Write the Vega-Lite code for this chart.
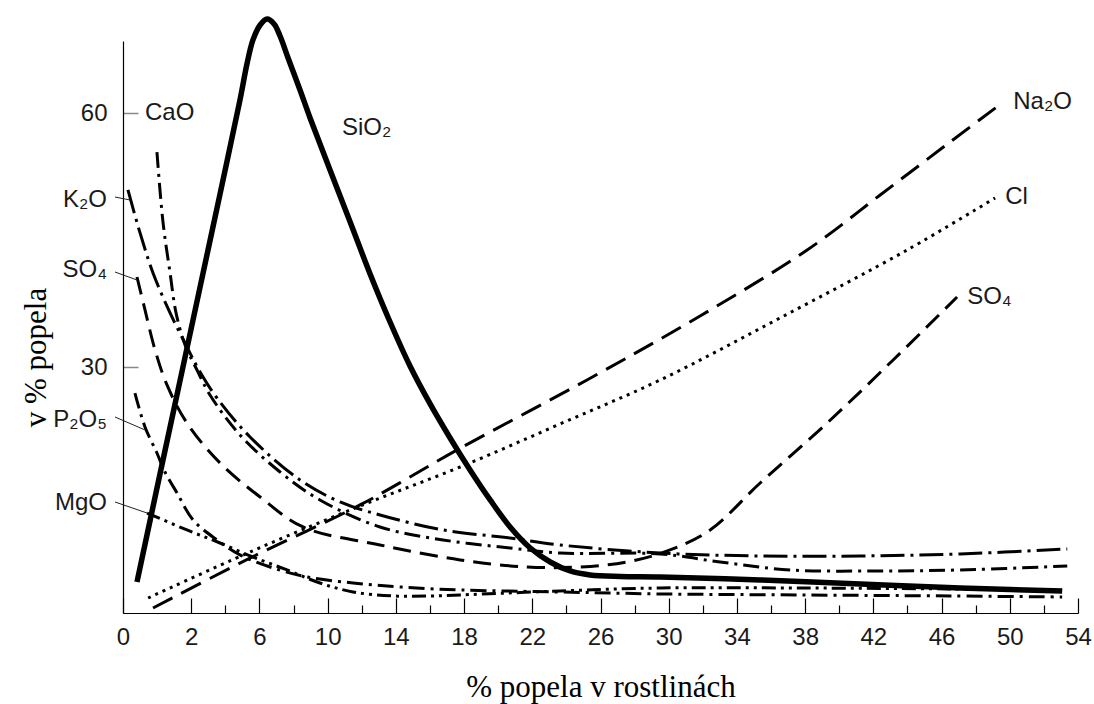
{
  "$schema": "https://vega.github.io/schema/vega-lite/v6.json",
  "width": 955,
  "height": 572,
  "autosize": "none",
  "padding": {"left": 123, "top": 41, "right": 16, "bottom": 91},
  "background": "white",
  "config": {"view": {"stroke": null}, "font": "Liberation Sans"},
  "datasets": {
    "curves": [
      {"s": "SiO2", "x": -1.18, "y": 4.66}, {"s": "SiO2", "x": 0.17, "y": 17.41}, {"s": "SiO2", "x": 1.34, "y": 28.38}, {"s": "SiO2", "x": 2.52, "y": 39.47}, {"s": "SiO2", "x": 3.69, "y": 50.45}, {"s": "SiO2", "x": 4.86, "y": 61.54}, {"s": "SiO2", "x": 5.27, "y": 65.8}, {"s": "SiO2", "x": 5.62, "y": 68.63}, {"s": "SiO2", "x": 6.04, "y": 70.39}, {"s": "SiO2", "x": 6.45, "y": 71.1}, {"s": "SiO2", "x": 6.86, "y": 70.51}, {"s": "SiO2", "x": 7.21, "y": 69.09}, {"s": "SiO2", "x": 7.68, "y": 66.5}, {"s": "SiO2", "x": 8.38, "y": 62.72}, {"s": "SiO2", "x": 8.97, "y": 59.42}, {"s": "SiO2", "x": 10.14, "y": 53.28}, {"s": "SiO2", "x": 11.32, "y": 47.14}, {"s": "SiO2", "x": 12.49, "y": 41.01}, {"s": "SiO2", "x": 13.66, "y": 35.34}, {"s": "SiO2", "x": 14.83, "y": 30.15}, {"s": "SiO2", "x": 16.01, "y": 25.67}, {"s": "SiO2", "x": 17.18, "y": 21.65}, {"s": "SiO2", "x": 18.35, "y": 17.88}, {"s": "SiO2", "x": 19.53, "y": 14.34}, {"s": "SiO2", "x": 20.7, "y": 11.15}, {"s": "SiO2", "x": 21.88, "y": 8.67}, {"s": "SiO2", "x": 23.05, "y": 7.02}, {"s": "SiO2", "x": 24.22, "y": 5.96}, {"s": "SiO2", "x": 25.39, "y": 5.49}, {"s": "SiO2", "x": 27.15, "y": 5.31}, {"s": "SiO2", "x": 29.5, "y": 5.25}, {"s": "SiO2", "x": 35.36, "y": 4.9}, {"s": "SiO2", "x": 41.23, "y": 4.43}, {"s": "SiO2", "x": 47.09, "y": 3.95}, {"s": "SiO2", "x": 53.07, "y": 3.6},
      {"s": "Na2O", "x": -0.24, "y": 1.59}, {"s": "Na2O", "x": 5.45, "y": 7.49}, {"s": "Na2O", "x": 11.9, "y": 13.75}, {"s": "Na2O", "x": 17.59, "y": 20.24}, {"s": "Na2O", "x": 25.21, "y": 28.5}, {"s": "Na2O", "x": 31.84, "y": 36.05}, {"s": "Na2O", "x": 38.12, "y": 43.84}, {"s": "Na2O", "x": 42.4, "y": 50.33}, {"s": "Na2O", "x": 46.5, "y": 56.58}, {"s": "Na2O", "x": 49.55, "y": 61.19},
      {"s": "Cl", "x": -0.53, "y": 2.77}, {"s": "Cl", "x": 5.45, "y": 8.2}, {"s": "Cl", "x": 11.9, "y": 13.63}, {"s": "Cl", "x": 17.77, "y": 18.23}, {"s": "Cl", "x": 23.63, "y": 23.31}, {"s": "Cl", "x": 29.5, "y": 28.5}, {"s": "Cl", "x": 36.53, "y": 35.82}, {"s": "Cl", "x": 43.98, "y": 43.84}, {"s": "Cl", "x": 49.14, "y": 49.98},
      {"s": "SO4", "x": -1.18, "y": 40.65}, {"s": "SO4", "x": -0.71, "y": 36.76}, {"s": "SO4", "x": -0.12, "y": 32.04}, {"s": "SO4", "x": 0.58, "y": 27.91}, {"s": "SO4", "x": 1.75, "y": 23.42}, {"s": "SO4", "x": 3.69, "y": 18.7}, {"s": "SO4", "x": 6.04, "y": 14.69}, {"s": "SO4", "x": 8.56, "y": 11.15}, {"s": "SO4", "x": 13.07, "y": 9.03}, {"s": "SO4", "x": 17.77, "y": 7.26}, {"s": "SO4", "x": 21.7, "y": 6.43}, {"s": "SO4", "x": 24.8, "y": 6.43}, {"s": "SO4", "x": 27.56, "y": 7.02}, {"s": "SO4", "x": 30.08, "y": 8.44}, {"s": "SO4", "x": 32.43, "y": 10.8}, {"s": "SO4", "x": 35.36, "y": 16.34}, {"s": "SO4", "x": 39.29, "y": 23.42}, {"s": "SO4", "x": 43.16, "y": 30.86}, {"s": "SO4", "x": 46.91, "y": 38.29},
      {"s": "K2O", "x": -1.71, "y": 50.92}, {"s": "K2O", "x": -1.0, "y": 45.85}, {"s": "K2O", "x": -0.24, "y": 41.13}, {"s": "K2O", "x": 0.76, "y": 36.41}, {"s": "K2O", "x": 1.75, "y": 32.39}, {"s": "K2O", "x": 2.52, "y": 29.44}, {"s": "K2O", "x": 3.51, "y": 26.37}, {"s": "K2O", "x": 5.45, "y": 21.77}, {"s": "K2O", "x": 8.38, "y": 16.7}, {"s": "K2O", "x": 10.73, "y": 14.1}, {"s": "K2O", "x": 13.07, "y": 12.57}, {"s": "K2O", "x": 16.77, "y": 10.8}, {"s": "K2O", "x": 20.7, "y": 9.85}, {"s": "K2O", "x": 23.63, "y": 9.03}, {"s": "K2O", "x": 29.5, "y": 8.08}, {"s": "K2O", "x": 35.36, "y": 7.73}, {"s": "K2O", "x": 41.23, "y": 7.73}, {"s": "K2O", "x": 47.09, "y": 7.97}, {"s": "K2O", "x": 53.37, "y": 8.56},
      {"s": "CaO", "x": -0.01, "y": 55.4}, {"s": "CaO", "x": 0.35, "y": 47.03}, {"s": "CaO", "x": 0.76, "y": 41.13}, {"s": "CaO", "x": 1.11, "y": 36.41}, {"s": "CaO", "x": 1.64, "y": 32.63}, {"s": "CaO", "x": 2.34, "y": 29.68}, {"s": "CaO", "x": 3.1, "y": 26.73}, {"s": "CaO", "x": 4.86, "y": 22.01}, {"s": "CaO", "x": 7.21, "y": 17.64}, {"s": "CaO", "x": 9.55, "y": 14.34}, {"s": "CaO", "x": 13.07, "y": 11.15}, {"s": "CaO", "x": 16.77, "y": 9.62}, {"s": "CaO", "x": 20.7, "y": 8.67}, {"s": "CaO", "x": 23.63, "y": 8.08}, {"s": "CaO", "x": 29.5, "y": 7.97}, {"s": "CaO", "x": 33.01, "y": 7.02}, {"s": "CaO", "x": 37.12, "y": 6.08}, {"s": "CaO", "x": 42.4, "y": 5.96}, {"s": "CaO", "x": 47.09, "y": 6.08}, {"s": "CaO", "x": 53.37, "y": 6.55},
      {"s": "P2O5", "x": -1.3, "y": 26.96}, {"s": "P2O5", "x": -0.71, "y": 22.95}, {"s": "P2O5", "x": -0.01, "y": 19.88}, {"s": "P2O5", "x": 0.46, "y": 17.64}, {"s": "P2O5", "x": 1.17, "y": 15.16}, {"s": "P2O5", "x": 2.11, "y": 11.98}, {"s": "P2O5", "x": 3.51, "y": 9.62}, {"s": "P2O5", "x": 4.86, "y": 7.85}, {"s": "P2O5", "x": 6.62, "y": 6.43}, {"s": "P2O5", "x": 8.79, "y": 5.25}, {"s": "P2O5", "x": 11.49, "y": 4.54}, {"s": "P2O5", "x": 14.25, "y": 4.07}, {"s": "P2O5", "x": 17.77, "y": 3.72}, {"s": "P2O5", "x": 23.63, "y": 3.48}, {"s": "P2O5", "x": 29.5, "y": 3.25}, {"s": "P2O5", "x": 37.71, "y": 3.13}, {"s": "P2O5", "x": 46.5, "y": 3.01}, {"s": "P2O5", "x": 53.07, "y": 2.89},
      {"s": "MgO", "x": -0.59, "y": 12.8}, {"s": "MgO", "x": 1.75, "y": 10.8}, {"s": "MgO", "x": 3.69, "y": 9.26}, {"s": "MgO", "x": 5.62, "y": 7.61}, {"s": "MgO", "x": 7.62, "y": 6.08}, {"s": "MgO", "x": 9.55, "y": 4.54}, {"s": "MgO", "x": 11.49, "y": 3.48}, {"s": "MgO", "x": 13.84, "y": 3.01}, {"s": "MgO", "x": 16.01, "y": 3.01}, {"s": "MgO", "x": 17.77, "y": 3.13}, {"s": "MgO", "x": 23.63, "y": 3.6}, {"s": "MgO", "x": 29.5, "y": 3.95}, {"s": "MgO", "x": 37.71, "y": 3.95}, {"s": "MgO", "x": 46.5, "y": 3.84}, {"s": "MgO", "x": 53.07, "y": 3.72}
    ],
    "leaders": [
      {"x": -2.47, "y": 50.09, "x2": -1.59, "y2": 49.74},
      {"x": -2.47, "y": 41.24, "x2": -1.18, "y2": 40.3},
      {"x": -2.47, "y": 24.13, "x2": -0.71, "y2": 22.6},
      {"x": -2.47, "y": 14.1, "x2": -0.59, "y2": 12.8}
    ],
    "tagsIn": [
      {"t": "CaO", "x": -0.71, "y": 60.0},
      {"t": "SiO₂", "x": 10.84, "y": 58.24},
      {"t": "Na₂O", "x": 50.2, "y": 61.3},
      {"t": "Cl", "x": 49.73, "y": 50.1},
      {"t": "SO₄", "x": 47.5, "y": 38.3}
    ],
    "tagsOut": [
      {"t": "K₂O", "x": -2.94, "y": 49.74},
      {"t": "SO₄", "x": -2.94, "y": 41.48},
      {"t": "P₂O₅", "x": -2.94, "y": 23.78},
      {"t": "MgO", "x": -2.94, "y": 13.98}
    ]
  },
  "encoding": {
    "x": {
      "field": "x", "type": "quantitative",
      "scale": {"domain": [-2, 54], "nice": false, "zero": false},
      "axis": {
        "title": "% popela v rostlinách",
        "values": [-2, 2, 4, 6, 8, 10, 12, 14, 16, 18, 20, 22, 24, 26, 28, 30, 32, 34, 36, 38, 40, 42, 44, 46, 48, 50, 52, 54],
        "labelExpr": "datum.value == -2 ? '0' : (datum.value % 4 == 0 ? '' : datum.label)",
        "tickSize": {"condition": {"test": "datum.value % 4 == 0", "value": -8}, "value": -15},
        "tickColor": "black", "tickWidth": 1.2,
        "domainColor": "black", "domainWidth": 1.2,
        "labelPadding": 27, "labelFlush": false, "labelOverlap": false,
        "labelFont": "Liberation Sans", "labelFontSize": 24, "labelColor": "#1a1a1a",
        "titleFont": "Liberation Serif", "titleFontSize": 31, "titleFontWeight": "normal", "titleColor": "black",
        "titlePadding": 16, "grid": false
      }
    },
    "y": {
      "field": "y", "type": "quantitative",
      "scale": {"domain": [1, 68.5], "nice": false, "zero": false},
      "axis": {
        "title": "v % popela",
        "values": [30, 60],
        "tickSize": -15, "tickColor": "#888", "tickWidth": 1.5,
        "domainColor": "black", "domainWidth": 1.2,
        "labelPadding": 31,
        "labelFont": "Liberation Sans", "labelFontSize": 24, "labelColor": "#1a1a1a",
        "titleFont": "Liberation Serif", "titleFontSize": 31, "titleFontWeight": "normal", "titleColor": "black",
        "titlePadding": 28, "titleY": 316, "grid": false
      }
    }
  },
  "layer": [
    {"data": {"name": "curves"}, "transform": [{"filter": "datum.s == 'Na2O'"}],
     "mark": {"type": "line", "interpolate": "catmull-rom", "color": "black", "strokeWidth": 3, "strokeDash": [22, 10], "clip": false}},
    {"data": {"name": "curves"}, "transform": [{"filter": "datum.s == 'Cl'"}],
     "mark": {"type": "line", "interpolate": "catmull-rom", "color": "black", "strokeWidth": 3, "strokeDash": [3, 5], "clip": false}},
    {"data": {"name": "curves"}, "transform": [{"filter": "datum.s == 'SO4'"}],
     "mark": {"type": "line", "interpolate": "catmull-rom", "color": "black", "strokeWidth": 3, "strokeDash": [18, 9], "clip": false}},
    {"data": {"name": "curves"}, "transform": [{"filter": "datum.s == 'K2O'"}],
     "mark": {"type": "line", "interpolate": "catmull-rom", "color": "black", "strokeWidth": 3, "strokeDash": [24, 6, 3, 6], "clip": false}},
    {"data": {"name": "curves"}, "transform": [{"filter": "datum.s == 'CaO'"}],
     "mark": {"type": "line", "interpolate": "catmull-rom", "color": "black", "strokeWidth": 3, "strokeDash": [16, 6, 3, 6], "clip": false}},
    {"data": {"name": "curves"}, "transform": [{"filter": "datum.s == 'P2O5'"}],
     "mark": {"type": "line", "interpolate": "catmull-rom", "color": "black", "strokeWidth": 3, "strokeDash": [16, 6, 3, 6], "clip": false}},
    {"data": {"name": "curves"}, "transform": [{"filter": "datum.s == 'MgO'"}],
     "mark": {"type": "line", "interpolate": "catmull-rom", "color": "black", "strokeWidth": 3, "strokeDash": [14, 5, 3, 5, 3, 5], "clip": false}},
    {"data": {"name": "curves"}, "transform": [{"filter": "datum.s == 'SiO2'"}],
     "mark": {"type": "line", "interpolate": "catmull-rom", "color": "black", "strokeWidth": 5.5, "clip": false}},
    {"data": {"name": "leaders"},
     "mark": {"type": "rule", "color": "#222", "strokeWidth": 1, "clip": false},
     "encoding": {"x2": {"field": "x2"}, "y2": {"field": "y2"}}},
    {"data": {"name": "tagsIn"},
     "mark": {"type": "text", "align": "left", "baseline": "middle", "font": "Liberation Sans", "fontSize": 24, "color": "#1a1a1a", "clip": false},
     "encoding": {"text": {"field": "t"}}},
    {"data": {"name": "tagsOut"},
     "mark": {"type": "text", "align": "right", "baseline": "middle", "font": "Liberation Sans", "fontSize": 24, "color": "#1a1a1a", "clip": false},
     "encoding": {"text": {"field": "t"}}}
  ]
}
